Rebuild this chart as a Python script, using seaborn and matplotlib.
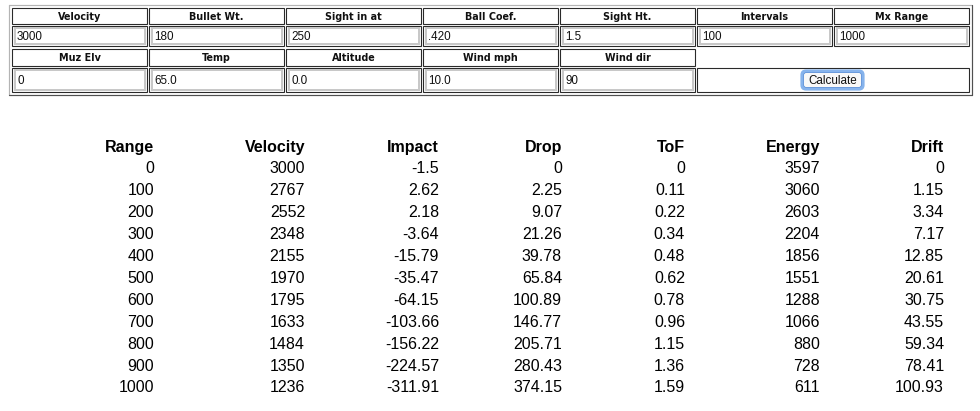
import matplotlib
matplotlib.use("Agg")
import matplotlib.pyplot as plt
from matplotlib.patches import Rectangle, FancyBboxPatch
import numpy as np
import pandas as pd
import seaborn as sns

# form contents
form_labels_1 = ["Velocity", "Bullet Wt.", "Sight in at", "Ball Coef.", "Sight Ht.", "Intervals", "Mx Range"]
form_values_1 = ["3000", "180", "250", ".420", "1.5", "100", "1000"]
form_labels_2 = ["Muz Elv", "Temp", "Altitude", "Wind mph", "Wind dir"]
form_values_2 = ["0", "65.0", "0.0", "10.0", "90"]
button_label = "Calculate"

# results table
columns = ["Range", "Velocity", "Impact", "Drop", "ToF", "Energy", "Drift"]
ranges = [0, 100, 200, 300, 400, 500, 600, 700, 800, 900, 1000]
velocity = [3000, 2767, 2552, 2348, 2155, 1970, 1795, 1633, 1484, 1350, 1236]
impact = [-1.5, 2.62, 2.18, -3.64, -15.79, -35.47, -64.15, -103.66, -156.22, -224.57, -311.91]
drop = [0, 2.25, 9.07, 21.26, 39.78, 65.84, 100.89, 146.77, 205.71, 280.43, 374.15]
tof = [0, 0.11, 0.22, 0.34, 0.48, 0.62, 0.78, 0.96, 1.15, 1.36, 1.59]
energy = [3597, 3060, 2603, 2204, 1856, 1551, 1288, 1066, 880, 728, 611]
drift = [0, 1.15, 3.34, 7.17, 12.85, 20.61, 30.75, 43.55, 59.34, 78.41, 100.93]

df = pd.DataFrame(dict(zip(columns, [ranges, velocity, impact, drop, tof, energy, drift])))

sns.set_theme(style="white")
plt.rcParams['font.family'] = ['Liberation Sans', 'DejaVu Sans']

fig = plt.figure(figsize=(9.8, 4.11), dpi=100)
ax = fig.add_axes([0, 0, 1, 1])
ax.set_xlim(0, 980)
ax.set_ylim(411, 0)
ax.axis('off')

px = 72 / 100  # pixel -> points

# outer form table (outset border)
ax.plot([9, 972], [5, 5], color='#b4b4b4', lw=1.2 * px)
ax.plot([9, 9], [5, 95], color='#b4b4b4', lw=1.2 * px)
ax.plot([9, 972], [95, 95], color='#505050', lw=1.2 * px)
ax.plot([972, 972], [5, 95], color='#505050', lw=1.2 * px)

col_left = [12 + 137 * i for i in range(7)]
cw = 135


def cell(x, y0, y1, w=cw):
    ax.add_patch(Rectangle((x, y0), w, y1 - y0, fill=False, ec='#2a2a2a', lw=1.1 * px))


def inbox(x, y0, y1, text):
    cell(x, y0, y1)
    ax.add_patch(Rectangle((x + 2.5, y0 + 2), cw - 5, y1 - y0 - 4, fill=False,
                           ec='#c8c8c8', lw=2 * px))
    ax.text(x + 5, (y0 + y1) / 2 + 0.5, text, fontsize=8.4, va='center', ha='left',
            color='#111111', family='Liberation Sans')


def header(x, y0, y1, text):
    cell(x, y0, y1)
    ax.text(x + cw / 2, (y0 + y1) / 2 + 0.5, text, fontsize=6.9, fontweight='bold',
            va='center', ha='center', family='DejaVu Sans', color='#111111')


for x, lab, val in zip(col_left, form_labels_1, form_values_1):
    header(x, 8, 24.5, lab)
    inbox(x, 26.5, 46, val)

for x, lab, val in zip(col_left, form_labels_2, form_values_2):
    header(x, 49.5, 66, lab)
    inbox(x, 68, 92.5, val)

# merged cell with the button
mx = col_left[5]
cell(mx, 68, 92.5, w=col_left[6] + cw - mx)
bx0, bx1, by0, by1 = 802, 863, 71, 89
ax.add_patch(FancyBboxPatch((bx0, by0), bx1 - bx0, by1 - by0,
                            boxstyle="round,pad=0,rounding_size=4",
                            fc='#f8f8f8', ec='#86b3ec', lw=3.2 * px))
ax.add_patch(FancyBboxPatch((bx0 + 1.5, by0 + 1.5), bx1 - bx0 - 3, by1 - by0 - 3,
                            boxstyle="round,pad=0,rounding_size=3",
                            fc='none', ec='#5a8fd8', lw=0.8 * px))
ax.text((bx0 + bx1) / 2, (by0 + by1) / 2 + 0.5, button_label, fontsize=8.4,
        ha='center', va='center', color='#111111')

# results table
right_edges = [154, 305, 439, 562, 685, 820, 944]
y_head = 147
row_h = 21.9
for col, xr in zip(columns, right_edges):
    ax.text(xr, y_head, col, fontsize=11.5, fontweight='bold', ha='right',
            va='center', color='black')
    for i, v in enumerate(df[col]):
        ax.text(xr, y_head + row_h * (i + 1), f"{v:g}", fontsize=11.5,
                ha='right', va='center', color='black')

fig.savefig("out.png", dpi=100)
